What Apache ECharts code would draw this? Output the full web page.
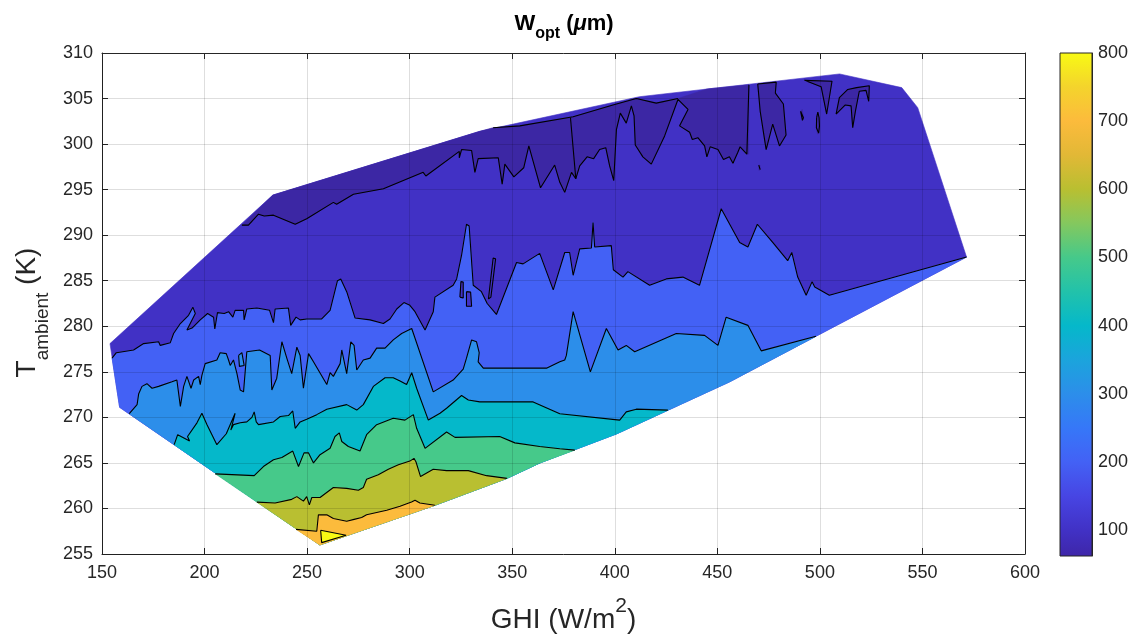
<!DOCTYPE html>
<html><head><meta charset="utf-8">
<script src="https://cdn.jsdelivr.net/npm/echarts@6/dist/echarts.min.js"></script>
<style>html,body{margin:0;padding:0;background:#fff}#c{width:1135px;height:639px}</style>
</head><body><div id="c"></div>
<script>
// ---------- data (GHI [W/m2], T_ambient [K]) ----------
const colorbarTicks = [100, 200, 300, 400, 500, 600, 700, 800];
const levels = [100, 200, 300, 400, 500, 600, 700, 800];

// outer boundary of the data (clockwise from left)
const hull = [[153.9,278.1],[233.3,294.4],[334.2,301.4],[412,305.2],[509.6,307.7],[539.9,306.2],[547.7,304.0],[571.5,287.6],
  [504.8,279.7],[456,273.9],[401,268.2],[363.5,265.0],[347.4,263.3],[312.3,260.35],[256.2,256.0],[158.6,271.1]];

// W = 100 contour (lower edge of the darkest band)
const L100 = [[218.2,291.1],[221.4,291.1],[226.3,292.3],[229.1,292.1],[233.6,292.2],[244.2,291.2],[249.8,291.8],[262.8,293.6],[264.4,293.4],
  [272.6,294.5],[287.2,295.1],[306.6,296.9],[307.9,296.5],[324.2,299.2],[324.2,298.5],[325.3,299.4],[330.2,299.3],[331.8,296.9],[333.4,298.4],
  [343.2,298.5],[345.1,295.6],[346.4,297.8],[350.8,296.4],[355.6,297.4],[358.1,299.8],[363.8,295.2],[370.7,297.7],[373.2,295.8],[375.6,294.7],
  [378.9,296.9],[381.0,296.2],[382.9,297.6],[386.5,298.6],[389.7,298.4],[392.6,299.4],[395.6,299.6],[397.5,297.6],[399.5,296.0],[400.8,301.6],
  [402.7,303.4],[405.6,302.3],[408.1,304.2],[409.4,303.1],[410.0,299.9],[413.7,298.6],[417.8,297.8],[424.3,300.9],[430.8,304.9],[435.7,303.8],
  [431.6,302.0],[436.5,301.3],[437.8,300.5],[440.5,300.7],[443.8,299.8],[444.9,298.6],[446.5,299.7],[450.3,299.4],[453.0,298.3],[455.9,298.6],
  [457.6,297.9],[460.0,299.1],[461.1,299.7],[464.4,298.9],[465.3,298.9],[465.4,306.5]];
const strip100 = [[334.2,301.4],[340.7,301.8],[353.7,302.0],[379.7,303.0],[399.1,304.3],[410.5,305.0],[420.2,304.5],[430.8,305.0]];
const sliver100 = [[378.4,302.9],[381.0,296.2]];
const lobe100 = [[469.7,306.6],[470.9,303.6],[473.8,299.4],[477.0,302.2],[480.3,299.8],[483.5,301.0],[482.2,304.4],[478.3,305.6],[478.7,306.8]];
const tri100 = [[492.5,307.0],[505.9,306.9],[503.3,303.3],[500.6,306.3]];
const hook100 = [[507.9,303.3],[509.5,305.1],[513.6,306.0],[517.9,306.2],[524.1,306.4],[523.8,304.7],[522.5,305.9],[519.2,305.8],[517.3,303.6],[516.0,301.8],[515.2,304.2],[512.4,304.3]];
const dotA100 = [[498.4,302.9],[499.0,303.5],[499.6,302.9],[499.8,302.0],[499.4,301.2],[498.8,301.1],[498.3,301.8]];
const dotB100 = [[490.6,303.6],[491.4,303.8],[492.0,302.9],[491.5,302.6]];
const dotC100 = [[470.2,297.7],[470.8,297.7],[470.9,297.2],[470.3,297.1]];

const L200 = [[154.9,276.5],[157.0,277.1],[165.4,277.4],[170.3,278.1],[177.6,278.3],[178.4,277.9],[183.3,278.2],[184.9,279.2],[188.2,280.3],
  [192.2,281.2],[194.3,282.1],[195.5,281.4],[191.4,279.6],[193.9,279.8],[197.9,280.7],[201.5,281.4],[204.4,281.0],[205.0,279.7],[206.3,281.5],
  [209.6,281.4],[211.7,281.6],[213.8,281.0],[214.9,281.75],[219.0,281.75],[219.3,280.7],[220.6,281.9],[225.5,282.0],[231.7,281.75],[233.6,280.4],
  [234.4,281.9],[240.9,282.0],[242.0,280.1],[244.6,281.0],[246.6,280.7],[249.8,280.8],[253.9,280.8],[257.1,280.8],[261.2,281.75],[264.8,285.0],
  [266.4,285.2],[269.3,283.8],[273.4,280.9],[280.7,280.7],[287.2,280.3],[290.4,280.8],[293.7,281.9],[297.2,282.6],[300.1,282.3],[302.6,281.6],
  [307.5,279.6],[311.5,281.6],[312.3,283.2],[321.2,284.5],[322.9,285.2],[325.3,287.8],[327.7,291.2],[329.0,291.0],[331.0,284.5],[335.0,283.8],
  [337.8,282.5],[342.3,281.3],[352.1,287.0],[355.3,286.85],[363.4,288.0],[370.0,284.0],[375.6,288.1],[378.0,288.1],[379.7,285.6],[382.9,288.5],
  [388.6,288.6],[389.4,291.4],[390.2,288.7],[398.3,288.85],[399.3,286.2],[404.0,285.4],[406.4,286.0],[417.0,284.5],[425.1,285.2],[433.2,285.4],
  [441.3,284.5],[451.9,292.9],[460.9,289.2],[464.9,288.7],[469.5,291.2],[477.0,289.2],[484.3,287.2],[486.3,288.1],[489.2,285.4],[493.3,283.4],
  [496.2,284.9],[497.5,284.3],[504.6,283.4],[571.5,287.6]];
const islA200 = [[324.5,283.2],[325.0,284.9],[326.1,284.85],[326.1,283.1]];
const islB200 = [[327.7,283.8],[329.7,283.75],[330.2,282.2],[327.7,282.2]];
const loopC200 = [[338.4,283.0],[340.7,287.5],[341.9,287.4],[339.6,283.2]];

const L300 = [[163.3,270.4],[167.1,271.4],[167.9,272.6],[169.5,273.4],[171.9,273.7],[174.4,273.2],[177.6,273.4],[184.1,273.9],[186.5,274.1],
  [188.2,271.2],[189.8,273.4],[191.4,274.5],[193.4,273.2],[194.7,274.1],[197.1,274.5],[197.9,273.6],[198.7,274.6],[200.3,275.9],[206.0,276.3],
  [207.6,277.1],[210.6,277.0],[211.7,276.3],[212.5,275.7],[214.1,276.3],[215.8,274.8],[217.4,273.0],[219.0,272.8],[220.6,277.2],[226.8,277.4],
  [232.0,276.8],[232.8,273.0],[235.2,274.3],[237.7,278.3],[240.1,276.5],[242.5,274.8],[245.0,277.7],[246.6,276.8],[248.2,273.2],[250.7,277.0],
  [253.1,276.1],[259.6,273.6],[261.2,274.9],[262.8,274.5],[266.1,275.9],[266.9,277.4],[269.3,274.8],[271.3,278.3],[272.9,277.9],[274.2,275.2],
  [277.4,276.3],[280.7,276.5],[283.9,277.6],[288.0,277.6],[292.0,278.5],[296.1,279.2],[301.0,279.75],[311.5,272.8],[321.2,274.1],[326.1,275.3],
  [327.7,276.5],[330.2,278.5],[332.6,278.3],[333.9,277.1],[333.4,276.1],[335.9,275.4],[366.7,275.4],[373.2,276.1],[375.6,276.3],[376.4,276.8],
  [379.7,281.6],[388.1,275.0],[395.9,279.75],[401.6,277.4],[405.6,277.9],[409.7,277.2],[430.0,279.2],[443.8,279.0],[450.3,277.9],[454.3,281.0],
  [464.9,280.1],[471.4,277.3],[498.1,278.9]];
const islD300 = [[216.6,276.8],[218.2,277.1],[219.3,275.7],[217.0,275.6]];

const L400 = [[185.2,267.0],[186.9,268.1],[192.7,267.4],[191.7,267.9],[196.3,269.4],[198.7,270.45],[201.2,269.2],[203.6,268.1],[206.0,267.0],
  [210.6,268.2],[214.9,270.45],[212.8,268.6],[214.1,269.2],[217.4,269.4],[220.6,269.5],[223.1,270.0],[224.2,270.6],[225.2,269.5],[226.3,269.2],
  [233.6,269.5],[236.9,270.1],[240.9,270.2],[243.0,270.7],[244.2,268.8],[246.6,269.5],[249.8,269.8],[254.7,270.3],[259.6,270.9],[269.3,271.4],
  [274.2,270.8],[277.4,271.4],[282.3,273.4],[288.0,274.35],[292.0,274.35],[295.3,274.0],[298.5,273.6],[301.0,274.9],[303.4,273.2],[309.1,269.7],
  [314.8,270.45],[318.0,271.0],[325.3,272.4],[328.6,271.9],[334.2,271.7],[360.2,271.7],[373.2,270.4],[402.4,269.7],[405.6,270.6],[410.5,270.9],
  [425.9,270.8]];

const L500 = [[205.2,263.8],[224.2,263.6],[228.7,264.6],[233.6,265.35],[237.7,265.6],[243.0,266.3],[245.8,264.6],[248.5,266.1],[250.7,266.1],
  [253.1,265.0],[256.3,265.9],[261.2,266.6],[263.6,267.9],[265.7,268.3],[266.9,267.35],[270.1,266.8],[275.8,266.3],[279.0,268.1],[283.9,269.2],
  [292.0,269.9],[297.7,269.7],[301.8,270.3],[303.4,268.8],[307.5,266.6],[318.0,268.4],[322.1,267.8],[343.9,267.9],[351.3,267.2],[363.4,266.8],
  [373.2,266.55],[380.5,266.4]];

const L600 = [[225.5,260.7],[234.4,260.6],[242.5,261.0],[245.0,261.3],[248.2,260.8],[249.8,261.3],[251.1,260.4],[252.3,261.2],[256.3,261.2],
  [262.8,262.3],[269.3,262.2],[275.0,262.0],[277.4,262.3],[279.0,263.2],[284.7,263.7],[289.6,264.3],[294.5,264.8],[300.1,265.2],[302.1,265.5],
  [303.1,265.1],[305.3,263.5],[311.5,264.3],[318.0,264.15],[328.6,264.15],[337.5,263.6],[347.4,263.3]];

const L700 = [[244.6,257.7],[254.7,257.5],[255.5,259.3],[259.6,259.3],[262.8,258.9],[269.3,258.6],[272.9,258.8],[276.6,259.0],[279.0,259.3],
  [288.8,259.8],[295.3,260.25],[300.9,260.7],[302.6,260.9],[305.0,260.6],[312.3,260.35]];

const L800 = [[256.6,257.6],[257.1,256.25],[269.0,257.05]];

// ---------- styling ----------
const FONT = '"Liberation Sans", Arial, Helvetica, sans-serif';
const AX = '#262626';
const bandColors = ['#3c27a4','#4131c5','#4361f5','#2c8eea','#05b8ca','#46c98a','#b9bf31','#fcbb3c','#f8fa14'];
const cbMin = 62, cbMax = 800;
const cbStops = [[62,'#3e26a8'],[100,'#4131c5'],[150,'#4745e3'],[200,'#4361f5'],[250,'#3677f8'],[300,'#2c8eea'],[350,'#1ba4dc'],
  [400,'#05b8ca'],[450,'#22c2aa'],[500,'#46c98a'],[550,'#84c85e'],[600,'#b9bf31'],[650,'#e2b836'],[700,'#fcbb3c'],[750,'#f4d42c'],[800,'#f8fa14']];

// region below a contour = contour + lower hull chain back to its start
function tailOf(line) {
  const s = line[0][0], e = line[line.length - 1][0];
  const right = hull.slice(7, 14).filter(v => v[0] < e - 0.05);
  const left = hull.slice(15).filter(v => v[0] > s + 0.05);
  return right.concat([hull[14]], left);
}
const closed = a => a.concat([a[0]]);

const polys = [];
polys.push({pts: hull, c: bandColors[1]});
polys.push({pts: [L100[0], hull[1]].concat(strip100, [[445,306.05]], L100.slice().reverse()), c: bandColors[0]});
[lobe100, tri100, hook100, dotA100, dotB100, dotC100].forEach(p => polys.push({pts: p, c: bandColors[0]}));
polys.push({pts: L200.concat(tailOf(L200)), c: bandColors[2]});
[islA200, islB200].forEach(p => polys.push({pts: p, c: bandColors[1]}));
polys.push({pts: L300.concat(tailOf(L300)), c: bandColors[3]});
polys.push({pts: islD300, c: bandColors[3]});
polys.push({pts: L400.concat(tailOf(L400)), c: bandColors[4]});
polys.push({pts: L500.concat(tailOf(L500)), c: bandColors[5]});
polys.push({pts: L600.concat(tailOf(L600)), c: bandColors[6]});
polys.push({pts: L700.concat(tailOf(L700)), c: bandColors[7]});
polys.push({pts: L800, c: bandColors[8]});

const contourLines = [L100, strip100.slice(1), sliver100, closed(lobe100), closed(tri100), closed(hook100), closed(dotA100), closed(dotB100), closed(dotC100),
  L200, closed(islA200), closed(islB200), closed(loopC200), L300, closed(islD300), L400, L500, L600, L700, closed(L800)];

const chart = echarts.init(document.getElementById('c'), null, {renderer: 'canvas'});

const lineSeries = contourLines.map(l => ({
  type: 'line', xAxisIndex: 0, yAxisIndex: 0, data: l, showSymbol: false, symbol: 'none', silent: true, z: 3,
  lineStyle: {color: '#000', width: 1.1}, animation: false
}));

const boxAxis = {axisLine: {onZero: false, lineStyle: {color: AX, width: 1}}, axisTick: {inside: true, length: 6, lineStyle: {color: AX}}};

chart.setOption({
  animation: false,
  backgroundColor: '#fff',
  title: {
    text: '{w|W}{o|opt}{w| (}{mu|μ}{w|m)}', left: 564, top: 13, textAlign: 'center', padding: 0,
    textStyle: {
      rich: {
        w: {fontSize: 22, fontWeight: 'bold', fontFamily: FONT, color: '#000', verticalAlign: 'top', lineHeight: 22},
        o: {fontSize: 16, fontWeight: 'bold', fontFamily: FONT, color: '#000', verticalAlign: 'top', lineHeight: 16, padding: [13, 0, 0, 0]},
        mu: {fontSize: 22, fontStyle: 'italic', fontFamily: FONT, color: '#000', verticalAlign: 'top', lineHeight: 22}
      }
    }
  },
  grid: [
    {left: 102, top: 53, width: 923, height: 503},
    {left: 1060, top: 53, width: 32, height: 503}
  ],
  xAxis: [
    Object.assign({gridIndex: 0, type: 'value', min: 150, max: 600, interval: 50, position: 'bottom',
      name: '{t|GHI (W/m}{p|2}{t|)}', nameLocation: 'middle', nameGap: 42,
      nameTextStyle: {rich: {
        t: {fontSize: 28, fontFamily: FONT, color: AX, verticalAlign: 'bottom', lineHeight: 38},
        p: {fontSize: 21, fontFamily: FONT, color: AX, verticalAlign: 'top', lineHeight: 21}
      }},
      axisLabel: {color: AX, fontSize: 18, fontFamily: FONT, margin: 10},
      splitLine: {show: false}}, boxAxis),
    Object.assign({gridIndex: 0, type: 'value', min: 150, max: 600, interval: 50, position: 'top', z: 5,
      axisLabel: {show: false}, splitLine: {show: true, lineStyle: {color: 'rgba(0,0,0,0.13)', width: 1}}}, boxAxis),
    {gridIndex: 1, type: 'value', min: 0, max: 1, show: false}
  ],
  yAxis: [
    Object.assign({gridIndex: 0, type: 'value', min: 255, max: 310, interval: 5, position: 'left',
      name: '{t|T}{s|ambient}{t| (K)}', nameLocation: 'middle', nameRotate: 90, nameGap: 54,
      nameTextStyle: {padding: [0, 18, 0, 0], rich: {
        t: {fontSize: 28, fontFamily: FONT, color: AX, verticalAlign: 'top', lineHeight: 28},
        s: {fontSize: 19, fontFamily: FONT, color: AX, verticalAlign: 'top', lineHeight: 19, padding: [20, 0, 0, 0]}
      }},
      axisLabel: {color: AX, fontSize: 18, fontFamily: FONT, margin: 9},
      splitLine: {show: false}}, boxAxis),
    Object.assign({gridIndex: 0, type: 'value', min: 255, max: 310, interval: 5, position: 'right', z: 5,
      axisLabel: {show: false}, splitLine: {show: true, lineStyle: {color: 'rgba(0,0,0,0.13)', width: 1}}}, boxAxis),
    {gridIndex: 1, type: 'value', min: cbMin, max: cbMax, position: 'right',
      axisLine: {show: true, onZero: false, lineStyle: {color: AX}},
      axisTick: {show: true, inside: true, length: 4, lineStyle: {color: AX}, customValues: colorbarTicks},
      axisLabel: {color: AX, fontSize: 18, fontFamily: FONT, margin: 6, customValues: colorbarTicks},
      splitLine: {show: false}}
  ],
  series: [
    {
      type: 'custom', xAxisIndex: 0, yAxisIndex: 0, silent: true, z: 2,
      data: polys.map((p, i) => [p.pts[0][0], p.pts[0][1], i]),
      renderItem: (params, api) => {
        const p = polys[params.dataIndex];
        return {type: 'polygon', shape: {points: p.pts.map(q => api.coord(q))},
          style: {fill: p.c, stroke: p.c, lineWidth: 0.6}};
      }
    },
    ...lineSeries,
    {
      type: 'custom', xAxisIndex: 2, yAxisIndex: 2, silent: true, z: 2,
      data: [[0, cbMin, 1, cbMax]],
      renderItem: (params, api) => {
        const a = api.coord([0, cbMax]);
        const b = api.coord([1, cbMin]);
        const stops = cbStops.map(s => ({offset: (s[0] - cbMin) / (cbMax - cbMin), color: s[1]}));
        return {type: 'rect', shape: {x: a[0], y: a[1], width: b[0] - a[0], height: b[1] - a[1]},
          style: {fill: new echarts.graphic.LinearGradient(0, 1, 0, 0, stops), stroke: AX, lineWidth: 1}};
      }
    }
  ]
});
</script>
</body></html>
